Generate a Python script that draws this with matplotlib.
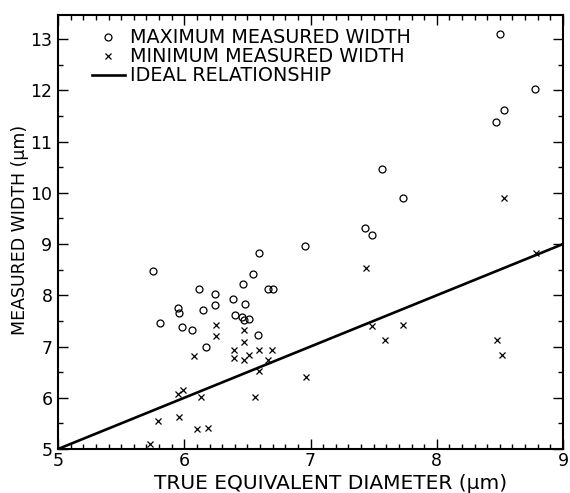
import matplotlib
matplotlib.use("Agg")
import matplotlib.pyplot as plt
from matplotlib.lines import Line2D
from matplotlib.ticker import MultipleLocator

# maximum measured width (circles)
maxDiameter = [5.75, 5.81, 5.95, 5.96, 5.98, 6.06, 6.12, 6.15, 6.17, 6.245, 6.245,
               6.385, 6.40, 6.465, 6.46, 6.475, 6.51, 6.485, 6.545, 6.59, 6.585,
               6.665, 6.70, 6.96, 7.43, 7.49, 7.57, 7.73, 8.47, 8.50, 8.535, 8.775]
maxWidth = [8.47, 7.45, 7.76, 7.65, 7.39, 7.32, 8.13, 7.71, 7.00, 8.02, 7.81,
            7.92, 7.62, 8.23, 7.57, 7.52, 7.53, 7.83, 8.42, 8.83, 7.22,
            8.13, 8.13, 8.97, 9.32, 9.17, 10.47, 9.90, 11.38, 13.10, 11.62, 12.03]

# minimum measured width (crosses)
minDiameter = [5.73, 5.795, 5.96, 5.95, 5.99, 6.075, 6.10, 6.135, 6.185, 6.25, 6.25,
               6.39, 6.39, 6.475, 6.475, 6.47, 6.51, 6.56, 6.595, 6.595, 6.695, 6.665,
               6.965, 7.44, 7.49, 7.59, 7.735, 8.48, 8.515, 8.535, 8.785]
minWidth = [5.09, 5.55, 5.62, 6.07, 6.16, 6.82, 5.39, 6.02, 5.42, 7.42, 7.20,
            6.93, 6.78, 7.32, 7.08, 6.73, 6.84, 6.02, 6.93, 6.53, 6.93, 6.74,
            6.41, 8.54, 7.41, 7.13, 7.42, 7.13, 6.83, 9.90, 8.83]

# ideal relationship: measured width = diameter
idealX = [5, 9]
idealY = [5, 9]

plt.rcParams["font.family"] = "DejaVu Sans"

fig = plt.figure(figsize=(5.7, 4.93), dpi=100)
ax = fig.add_axes([0.1018, 0.0892, 0.8859, 0.8804])

ax.plot(idealX, idealY, color="black", linewidth=1.9, solid_capstyle="butt")
ax.plot(maxDiameter, maxWidth, linestyle="none", marker="o", markersize=5,
        markerfacecolor="none", markeredgecolor="black", markeredgewidth=0.9)
ax.plot(minDiameter, minWidth, linestyle="none", marker="x", markersize=4.2,
        color="black", markeredgewidth=0.9)

ax.set_xlim(5, 9)
ax.set_ylim(5, 13.47)
ax.xaxis.set_major_locator(MultipleLocator(1))
ax.xaxis.set_minor_locator(MultipleLocator(0.1))
ax.yaxis.set_major_locator(MultipleLocator(1))
ax.yaxis.set_minor_locator(MultipleLocator(0.5))
ax.tick_params(which="both", direction="in", top=True, right=True,
               width=1.0, labelsize=12.5)
ax.tick_params(axis="x", pad=2.5)
ax.tick_params(axis="y", pad=4)
ax.tick_params(which="major", length=7)
ax.tick_params(which="minor", length=3.5)
for s in ax.spines.values():
    s.set_linewidth(1.5)

# the lettering of the x label is wider than the y label
ax.set_xlabel("TRUE EQUIVALENT DIAMETER (\u03bcm)", fontsize=14.5)
ax.xaxis.set_label_coords(0.539, -0.058)
ax.set_ylabel("MEASURED WIDTH (\u03bcm)", fontsize=12.5)
ax.yaxis.set_label_coords(-0.058, 0.505)

handles = [
    Line2D([], [], linestyle="none", marker="o", markersize=5,
           markerfacecolor="none", markeredgecolor="black", markeredgewidth=0.9),
    Line2D([], [], linestyle="none", marker="x", markersize=4.2,
           color="black", markeredgewidth=0.9),
    Line2D([], [], color="black", linewidth=1.9),
]
labels = ["MAXIMUM MEASURED WIDTH", "MINIMUM MEASURED WIDTH", "IDEAL RELATIONSHIP"]
ax.legend(handles, labels, loc="upper left", bbox_to_anchor=(0.052, 0.987),
          frameon=False, fontsize=13.8, handlelength=1.7, handletextpad=0.3,
          labelspacing=0.0, borderaxespad=0)

fig.savefig("out.png", dpi=100)
